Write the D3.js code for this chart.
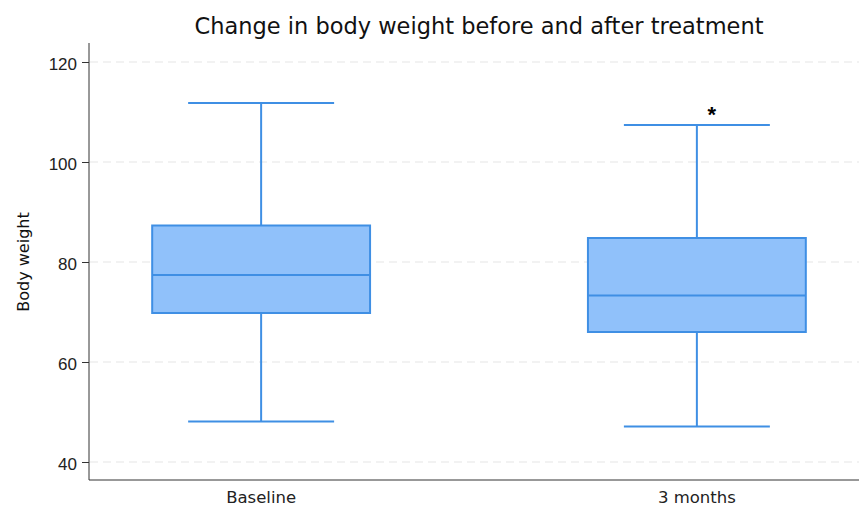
<!DOCTYPE html>
<html>
<head>
<meta charset="utf-8">
<script src="https://cdn.jsdelivr.net/npm/d3@7"></script>
<style>
  html, body { margin: 0; padding: 0; background: #fff; }
  svg { display: block; font-family: "DejaVu Sans", "Liberation Sans", Arial, sans-serif; }
</style>
</head>
<body>
<svg id="chart" width="859" height="506"></svg>
<script>
// Summary statistics for each time point
const groups      = ["Baseline", "3 months"];
const whiskerLow  = [48.1, 47.1];
const q1          = [69.8, 66.0];
const medians     = [77.4, 73.3];
const q3          = [87.3, 84.8];
const whiskerHigh = [111.8, 107.4];
const yTicks      = [40, 60, 80, 100, 120];
const marks       = ["", "*"];   // significance annotation above the upper whisker

const stats = groups.map((g, i) => ({
  group: g, lo: whiskerLow[i], q1: q1[i], med: medians[i],
  q3: q3[i], hi: whiskerHigh[i], mark: marks[i]
}));

const svg = d3.select("#chart");
const plotLeft = 89, plotRight = 869, plotTop = 43, plotBottom = 480;

const y = d3.scaleLinear().domain([36.4, 123.8]).range([plotBottom, plotTop]);
const x = d3.scaleBand().domain(groups).range([plotLeft, plotRight])
  .paddingInner(0.5).paddingOuter(0.145);

const boxStroke = "#3f8fe4";
const boxFill = "#90c1fa";

// Horizontal dashed gridlines
svg.append("g").selectAll("line").data(yTicks).join("line")
  .attr("x1", plotLeft + 1).attr("x2", 859)
  .attr("y1", d => y(d)).attr("y2", d => y(d))
  .attr("stroke", "#e6e6e6").attr("stroke-width", 1.2)
  .attr("stroke-dasharray", "8,5");

// Y axis
const yAxis = svg.append("g").attr("transform", `translate(${plotLeft},0)`)
  .call(d3.axisLeft(y).tickValues(yTicks).tickSize(7).tickPadding(5));
yAxis.select(".domain").attr("stroke", "#333").attr("d", `M0,${plotTop}V${plotBottom}`);
yAxis.selectAll(".tick line").attr("stroke", "#333");
yAxis.selectAll(".tick text").attr("fill", "#222").attr("dy", "0.46em")
  .style("font-size", "17px")
  .style("font-family", "'Liberation Sans', Arial, sans-serif");

// X axis
const xAxis = svg.append("g").attr("transform", `translate(0,${plotBottom})`)
  .call(d3.axisBottom(x).tickSize(0).tickPadding(11));
xAxis.select(".domain").attr("stroke", "#333").attr("d", `M${plotLeft},0H859`);
xAxis.selectAll(".tick text").attr("fill", "#222")
  .style("font-size", "16.5px")
  .style("font-family", "'DejaVu Sans', sans-serif");

// Boxes and whiskers
const bw = x.bandwidth();
const capW = bw * 0.67;
const g = svg.append("g").selectAll("g").data(stats).join("g")
  .attr("transform", d => `translate(${x(d.group) + bw / 2},0)`);

g.append("line").attr("x1", 0).attr("x2", 0)
  .attr("y1", d => y(d.hi)).attr("y2", d => y(d.q3))
  .attr("stroke", boxStroke).attr("stroke-width", 2);
g.append("line").attr("x1", 0).attr("x2", 0)
  .attr("y1", d => y(d.q1)).attr("y2", d => y(d.lo))
  .attr("stroke", boxStroke).attr("stroke-width", 2);
g.append("line").attr("x1", -capW / 2).attr("x2", capW / 2)
  .attr("y1", d => y(d.hi)).attr("y2", d => y(d.hi))
  .attr("stroke", boxStroke).attr("stroke-width", 2);
g.append("line").attr("x1", -capW / 2).attr("x2", capW / 2)
  .attr("y1", d => y(d.lo)).attr("y2", d => y(d.lo))
  .attr("stroke", boxStroke).attr("stroke-width", 2);
g.append("rect")
  .attr("x", -bw / 2).attr("width", bw)
  .attr("y", d => y(d.q3)).attr("height", d => y(d.q1) - y(d.q3))
  .attr("fill", boxFill).attr("stroke", boxStroke).attr("stroke-width", 2);
g.append("line").attr("x1", -bw / 2).attr("x2", bw / 2)
  .attr("y1", d => y(d.med)).attr("y2", d => y(d.med))
  .attr("stroke", boxStroke).attr("stroke-width", 2);

// Significance marker
g.append("text").text(d => d.mark)
  .attr("x", 15).attr("y", d => y(d.hi) - 3)
  .attr("text-anchor", "middle").attr("fill", "#000")
  .style("font-family", "'Liberation Sans', Arial, sans-serif")
  .style("font-size", "22px").style("font-weight", "bold");

// Title
svg.append("text").text("Change in body weight before and after treatment")
  .attr("x", 479).attr("y", 34).attr("text-anchor", "middle")
  .attr("fill", "#111").style("font-size", "22.5px");

// Y axis label
svg.append("text").text("Body weight")
  .attr("transform", `translate(29,262) rotate(-90)`)
  .attr("text-anchor", "middle").attr("fill", "#111").style("font-size", "16px");
</script>
</body>
</html>
